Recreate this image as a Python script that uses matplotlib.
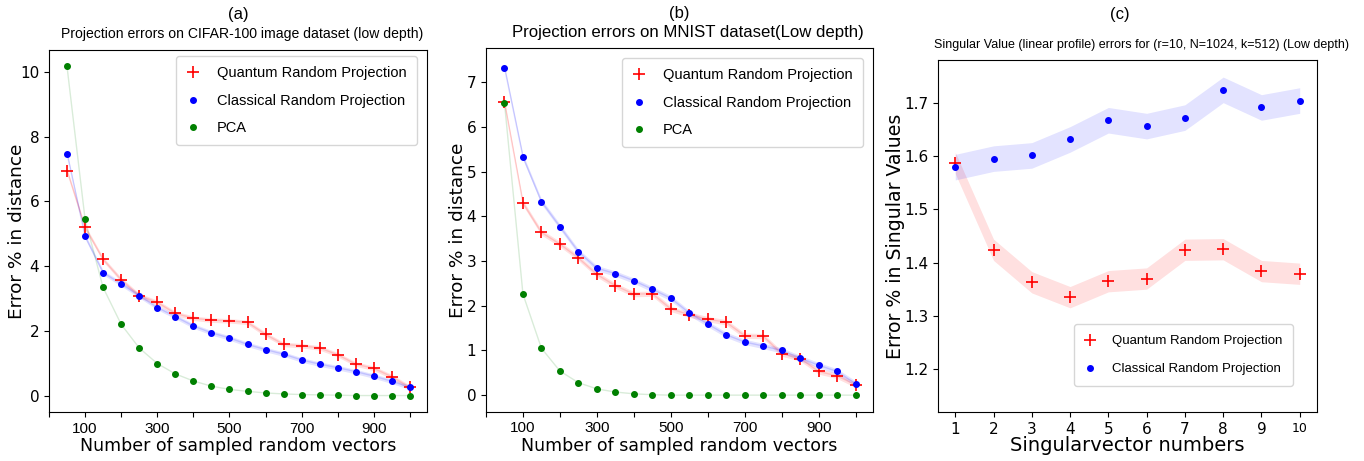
import numpy as np
import matplotlib
matplotlib.use("Agg")
import matplotlib.pyplot as plt

# sampled vector counts (panels a, b)
n_vectors = list(range(50, 1001, 50))

cifar_quantum = [6.95, 5.20, 4.21, 3.58, 3.09, 2.88, 2.54, 2.39, 2.33, 2.31,
                 2.26, 1.89, 1.58, 1.54, 1.47, 1.26, 0.97, 0.84, 0.58, 0.25]
cifar_classical = [7.48, 4.92, 3.80, 3.45, 3.09, 2.72, 2.44, 2.15, 1.94, 1.78,
                   1.58, 1.42, 1.28, 1.10, 0.97, 0.86, 0.74, 0.60, 0.44, 0.25]
cifar_pca = [10.17, 5.45, 3.34, 2.20, 1.47, 0.99, 0.67, 0.45, 0.29, 0.19,
             0.13, 0.08, 0.05, 0.03, 0.02, 0.01, 0.0, 0.0, 0.0, 0.0]

mnist_quantum = [6.55, 4.30, 3.64, 3.38, 3.07, 2.70, 2.45, 2.26, 2.27, 1.93,
                 1.80, 1.70, 1.63, 1.33, 1.32, 0.93, 0.82, 0.53, 0.43, 0.23]
mnist_classical = [7.33, 5.33, 4.33, 3.77, 3.21, 2.84, 2.72, 2.56, 2.37, 2.17,
                   1.84, 1.59, 1.35, 1.19, 1.10, 1.00, 0.83, 0.67, 0.53, 0.26]
mnist_pca = [6.54, 2.26, 1.05, 0.54, 0.28, 0.14, 0.07, 0.03, 0.01, 0.0,
             0.0, 0.0, 0.0, 0.0, 0.0, 0.0, 0.0, 0.0, 0.0, 0.0]

# singular vectors (panel c)
sv_index = list(range(1, 11))
sv_quantum = [1.587, 1.424, 1.363, 1.335, 1.365, 1.370, 1.424, 1.425, 1.384, 1.379]
sv_classical = [1.579, 1.595, 1.601, 1.631, 1.667, 1.656, 1.672, 1.724, 1.691, 1.704]
sv_quantum_std = 0.02
sv_classical_std = 0.024

narrow = "Liberation Sans"
plt.rcParams["font.family"] = "DejaVu Sans"

fig = plt.figure(figsize=(13.64, 4.61), dpi=100)
ax_a = fig.add_axes([0.0359, 0.1063, 0.2771, 0.7852])
ax_b = fig.add_axes([0.3563, 0.1070, 0.2837, 0.7882])
ax_c = fig.add_axes([0.6877, 0.1056, 0.2778, 0.7642])


def distance_panel(ax, q, c, p, title, title_size, title_x, letter, band, leg_anchor, ylab_x):
    x = np.array(n_vectors)
    q = np.array(q)
    c = np.array(c)
    ax.fill_between(x, q - band, q + band, color="red", alpha=0.12, lw=0)
    ax.fill_between(x, c - band, c + band, color="blue", alpha=0.11, lw=0)
    ax.plot(x, q, color="red", alpha=0.15, lw=1)
    ax.plot(x, c, color="blue", alpha=0.15, lw=1)
    ax.plot(x, p, color="green", alpha=0.15, lw=1)
    ax.plot(x, q, "r+", ms=9, mew=1.2, label="Quantum Random Projection")
    ax.plot(x, c, "o", color="blue", ms=4, label="Classical Random Projection")
    ax.plot(x, p, "o", color="green", ms=4, label="PCA")
    ax.set_xlim(0, 1047)
    ax.set_xticks(range(0, 1001, 100))
    ax.set_xticklabels(["" if t % 200 == 0 else str(t) for t in range(0, 1001, 100)],
                       family=narrow, fontsize=11)
    ax.tick_params(axis="y", labelsize=11)
    ax.set_xlabel("Number of sampled random vectors", fontsize=12.5, labelpad=1)
    ax.set_ylabel("Error % in distance", fontsize=13.3)
    ax.yaxis.set_label_coords(ylab_x, 0.5)
    ax.text(title_x, 1.043, title, transform=ax.transAxes, ha="center", va="center",
            fontsize=title_size, family=narrow)
    ax.text(0.5, 1.097, letter, transform=ax.transAxes, ha="center",
            va="center", fontsize=12, family=narrow)
    ax.legend(loc="upper right", bbox_to_anchor=leg_anchor, borderaxespad=0,
              prop=dict(size=10.5, family=narrow), labelspacing=0.92,
              borderpad=0.7, handlelength=0.9, handletextpad=1.2)


distance_panel(ax_a, cifar_quantum, cifar_classical, cifar_pca,
               "Projection errors on CIFAR-100 image dataset (low depth)", 10.1, 0.51, "(a)", 0.07,
               (0.9735, 0.9834), -0.06)
distance_panel(ax_b, mnist_quantum, mnist_classical, mnist_pca,
               "Projection errors on MNIST dataset(Low depth)", 12.1, 0.522, "(b)", 0.06,
               (0.974, 0.973), -0.049)

xs = np.array(sv_index)
sq = np.array(sv_quantum)
sc = np.array(sv_classical)
ax_c.fill_between(xs, sq - sv_quantum_std, sq + sv_quantum_std, color="red", alpha=0.12, lw=0)
ax_c.fill_between(xs, sc - sv_classical_std, sc + sv_classical_std, color="blue", alpha=0.11, lw=0)
ax_c.plot(xs, sq, "r+", ms=9, mew=1.2, label="Quantum Random Projection")
ax_c.plot(xs, sc, "o", color="blue", ms=4, label="Classical Random Projection")
ax_c.set_xlim(0.55, 10.45)
ax_c.set_ylim(1.119, 1.78)
ax_c.set_xticks(sv_index)
ax_c.set_yticks([1.2, 1.3, 1.4, 1.5, 1.6, 1.7])
ax_c.tick_params(labelsize=11)
for lab in ax_c.get_xticklabels():
    if lab.get_text() == "10":
        lab.set_fontsize(9)
ax_c.set_xlabel("Singularvector numbers", fontsize=14, labelpad=-1)
ax_c.set_ylabel("Error % in Singular Values", fontsize=13.6)
ax_c.yaxis.set_label_coords(-0.088, 0.5)
ax_c.text(0.537, 1.043, "Singular Value (linear profile) errors for (r=10, N=1024, k=512) (Low depth)",
          transform=ax_c.transAxes, ha="center", va="center", fontsize=9.0, family=narrow)
ax_c.text(0.48, 1.128, "(c)", transform=ax_c.transAxes, ha="center", va="center",
          fontsize=12, family=narrow)
ax_c.legend(loc="lower right", bbox_to_anchor=(0.937, 0.075), borderaxespad=0,
            prop=dict(size=9.5, family=narrow), labelspacing=1.2,
            borderpad=0.8, handlelength=0.8, handletextpad=1.27)

plt.savefig("out.png", dpi=100)
